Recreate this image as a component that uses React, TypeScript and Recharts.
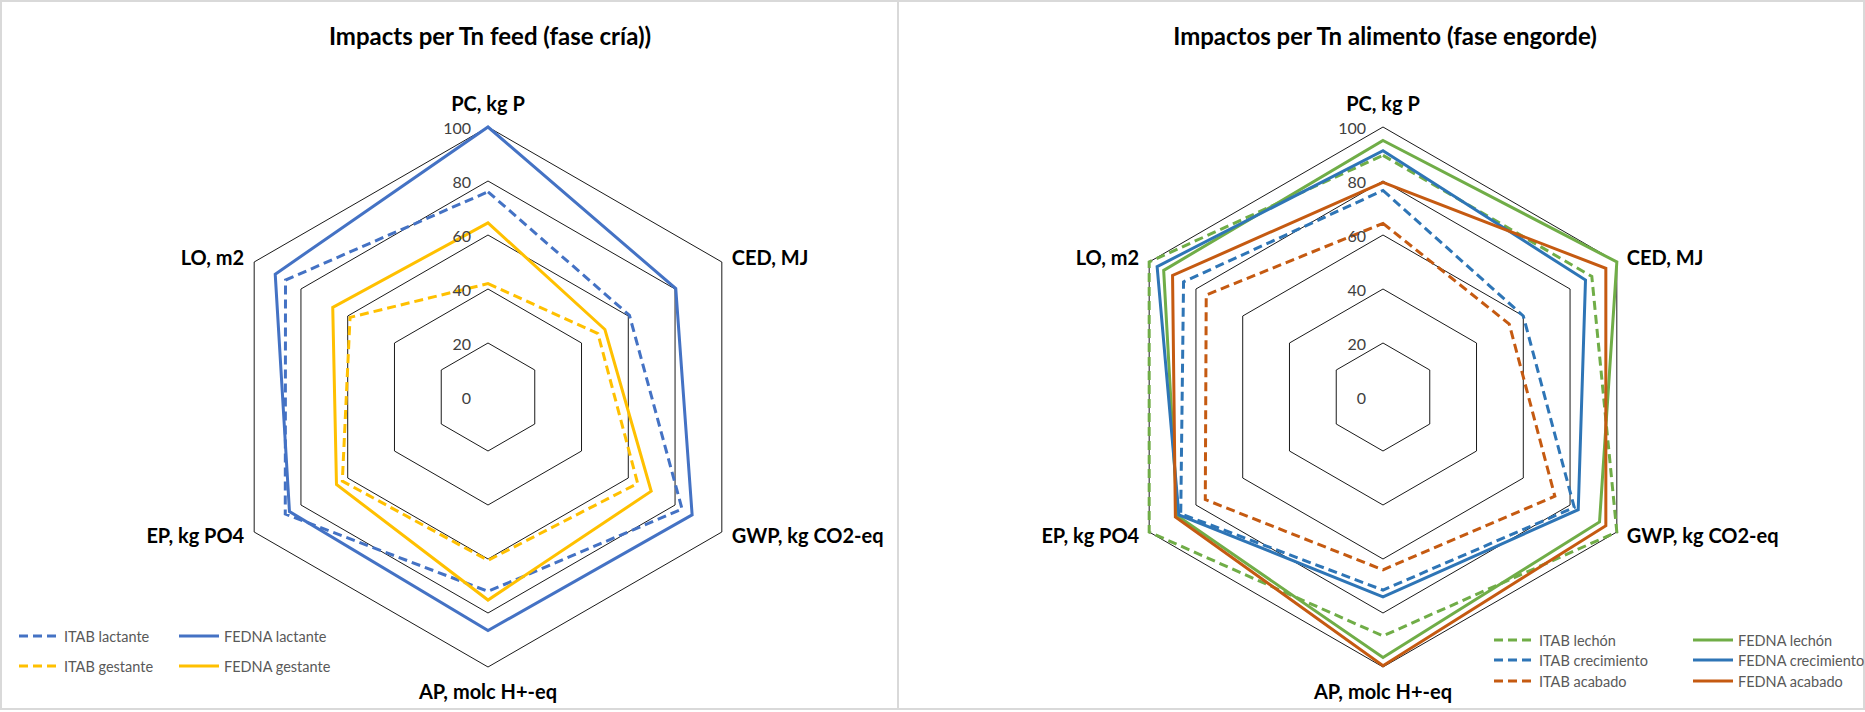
import { RadarChart, Radar, PolarGrid, PolarAngleAxis, PolarRadiusAxis } from "recharts";

const axes = ["PC, kg P", "CED, MJ", "GWP, kg CO2-eq", "AP, molc H+-eq", "EP, kg PO4", "LO, m2"];
const radiusTicks = [0, 20, 40, 60, 80, 100];

// fase cría
const itabLactante = [76, 60.5, 83, 72, 86.7, 86.6];
const fednaLactante = [100, 80.3, 87.3, 86.5, 84.9, 91];
const itabGestante = [42, 47, 64, 60.5, 62.3, 59];
const fednaGestante = [64.5, 50, 69.8, 75.2, 64.8, 66.4];

// fase engorde
const itabLechon = [89.5, 89.3, 100, 88.5, 100, 100];
const fednaLechon = [95, 100, 92.6, 96.5, 88, 93.8];
const itabCrecimiento = [76.5, 60, 81.8, 71.5, 86.5, 85.3];
const fednaCrecimiento = [91.2, 86.6, 83.5, 74, 87.3, 96.6];
const itabAcabado = [64.3, 54, 73.5, 64, 76, 75.6];
const fednaAcabado = [79.5, 95.3, 95.3, 99.5, 88.8, 90];

type Series = { key: string; name: string; color: string; dashed: boolean; values: number[] };

const criaSeries: Series[] = [
  { key: "itabLactante", name: "ITAB lactante", color: "#4472C4", dashed: true, values: itabLactante },
  { key: "fednaLactante", name: "FEDNA lactante", color: "#4472C4", dashed: false, values: fednaLactante },
  { key: "itabGestante", name: "ITAB gestante", color: "#FFC000", dashed: true, values: itabGestante },
  { key: "fednaGestante", name: "FEDNA gestante", color: "#FFC000", dashed: false, values: fednaGestante },
];

const engordeSeries: Series[] = [
  { key: "itabLechon", name: "ITAB lechón", color: "#70AD47", dashed: true, values: itabLechon },
  { key: "fednaLechon", name: "FEDNA lechón", color: "#70AD47", dashed: false, values: fednaLechon },
  { key: "itabCrecimiento", name: "ITAB crecimiento", color: "#2E75B6", dashed: true, values: itabCrecimiento },
  { key: "fednaCrecimiento", name: "FEDNA crecimiento", color: "#2E75B6", dashed: false, values: fednaCrecimiento },
  { key: "itabAcabado", name: "ITAB acabado", color: "#C55A11", dashed: true, values: itabAcabado },
  { key: "fednaAcabado", name: "FEDNA acabado", color: "#C55A11", dashed: false, values: fednaAcabado },
];

const FONT = "Lato, 'Open Sans', sans-serif";
const CY = 397;
const RADIUS = 270;

function buildRows(series: Series[]) {
  return axes.map((axis, i) => {
    const row: Record<string, string | number> = { axis };
    series.forEach((s) => (row[s.key] = s.values[i]));
    return row;
  });
}

function AngleTick(props: any) {
  const { x, y, cx, payload } = props;
  const dx = x - cx;
  let anchor = "middle";
  let tx = x;
  let ty = y;
  if (Math.abs(dx) < 1) {
    ty = y < CY ? y - 16 : y + 16;
  } else if (dx > 0) {
    anchor = "start";
    tx = x + 3;
    ty = y - 1;
  } else {
    anchor = "end";
    tx = x - 3;
    ty = y - 1;
  }
  return (
    <text x={tx} y={ty} textAnchor={anchor} dominantBaseline="central" fill="#000" fontSize={20} fontWeight={700} fontFamily={FONT}>
      {payload.value}
    </text>
  );
}

function RadiusTick(props: any) {
  const { x, y, payload } = props;
  return (
    <text x={x - 17} y={y} textAnchor="end" dominantBaseline="central" fill="#404040" fontSize={16} fontFamily={FONT}>
      {payload.value}
    </text>
  );
}

interface LegendItem {
  series: Series;
  x: number;
  y: number;
}

function PanelLegend({ items }: { items: LegendItem[] }) {
  return (
    <>
      {items.map(({ series, x, y }) => (
        <div key={series.key} style={{ position: "absolute", left: x, top: y - 10, height: 20, display: "flex", alignItems: "center" }}>
          <svg width={44} height={20}>
            <line
              x1={1}
              y1={10}
              x2={41}
              y2={10}
              stroke={series.color}
              strokeWidth={3}
              strokeDasharray={series.dashed ? "9 5" : undefined}
            />
          </svg>
          <span style={{ fontFamily: FONT, fontSize: 14.5, color: "#595959", marginLeft: 2, whiteSpace: "nowrap" }}>{series.name}</span>
        </div>
      ))}
    </>
  );
}

interface PanelProps {
  title: string;
  series: Series[];
  left: number;
  width: number;
  cx: number;
  legend: LegendItem[];
}

function SpiderPanel({ title, series, left, width, cx, legend }: PanelProps) {
  const data = buildRows(series);
  return (
    <div
      style={{
        position: "absolute",
        left,
        top: 0,
        width,
        height: 710,
        border: "2px solid #d9d9d9",
        boxSizing: "border-box",
        background: "#fff",
      }}
    >
      <div
        style={{
          position: "absolute",
          left: cx - 300,
          width: 600,
          top: 19,
          textAlign: "center",
          fontFamily: FONT,
          fontWeight: 700,
          fontSize: 24,
          color: "#000",
        }}
      >
        {title}
      </div>
      <div style={{ position: "absolute", left: -2, top: -2 }}>
        <RadarChart width={width} height={710} data={data} cx={cx} cy={CY} outerRadius={RADIUS} margin={{ top: 0, right: 0, bottom: 0, left: 0 }}>
          <PolarGrid gridType="polygon" radialLines={false} stroke="#1a1a1a" strokeWidth={1} />
          <PolarAngleAxis dataKey="axis" tick={<AngleTick />} tickLine={false} axisLine={false} />
          <PolarRadiusAxis angle={90} domain={[0, 100]} ticks={radiusTicks as any} tickCount={6} axisLine={false} tick={<RadiusTick />} />
          {series.map((s) => (
            <Radar
              key={s.key}
              name={s.name}
              dataKey={s.key}
              stroke={s.color}
              strokeWidth={3}
              strokeDasharray={s.dashed ? "9 5" : undefined}
              fill="none"
              fillOpacity={0}
              dot={false}
              isAnimationActive={false}
            />
          ))}
        </RadarChart>
      </div>
      <PanelLegend items={legend} />
    </div>
  );
}

export default function App() {
  return (
    <div style={{ position: "absolute", left: 0, top: 0, width: 1865, height: 712, background: "#fff" }}>
      <SpiderPanel
        title="Impacts per Tn feed (fase cría))"
        series={criaSeries}
        left={0}
        width={899}
        cx={488}
        legend={[
          { series: criaSeries[0], x: 16, y: 634 },
          { series: criaSeries[1], x: 176, y: 634 },
          { series: criaSeries[2], x: 16, y: 664 },
          { series: criaSeries[3], x: 176, y: 664 },
        ]}
      />
      <SpiderPanel
        title="Impactos per Tn alimento (fase engorde)"
        series={engordeSeries}
        left={897}
        width={968}
        cx={486}
        legend={[
          { series: engordeSeries[0], x: 594, y: 638 },
          { series: engordeSeries[1], x: 793, y: 638 },
          { series: engordeSeries[2], x: 594, y: 658 },
          { series: engordeSeries[3], x: 793, y: 658 },
          { series: engordeSeries[4], x: 594, y: 679 },
          { series: engordeSeries[5], x: 793, y: 679 },
        ]}
      />
    </div>
  );
}
